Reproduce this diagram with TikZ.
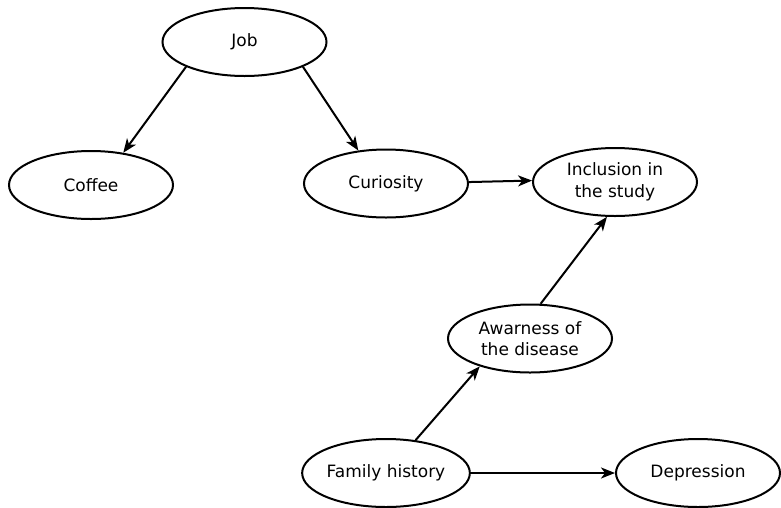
\documentclass[tikz,border=0pt]{standalone}
\usepackage{fontspec}
\setmainfont{DejaVu Sans}
\usetikzlibrary{shapes.geometric,arrows.meta}
\begin{document}
\begin{tikzpicture}[x=1pt,y=-1pt,
  ebox/.style={ellipse,draw=black,line width=2pt,minimum width=164pt,minimum height=68pt,
    inner sep=0pt,align=center,font=\fontsize{17}{21.5}\selectfont},
  link/.style={line width=2pt,-{Stealth[length=14pt,width=11pt,inset=4pt]}}]
\useasboundingbox (0,0) rectangle (781,507);
% nodes
\node[ebox] (job) at (244.5,42) {Job};
\node[ebox] (coffee) at (91,185) {Coffee};
\node[ebox] (cur) at (386,183.5) {Curiosity};
\node[ebox] (inc) at (615,182) {Inclusion in\\the study};
\node[ebox] (awa) at (530,338.5) {Awarness of\\the disease};
\node[ebox] (fam) at (386,473) {Family history};
\node[ebox] (dep) at (698,473) {Depression};
% connectors
\draw[link] (job.203.6) -- (coffee.45.9);
\draw[link] (job.337.9) -- (cur.130.7);
\draw[link] (cur.1) -- (inc.179.3);
\draw[link] (awa.73.8) -- (inc.257.5);
\draw[link] (fam.48.8) -- (awa.209.1);
\draw[link] (fam.0) -- (dep.180);
\end{tikzpicture}
\end{document}
